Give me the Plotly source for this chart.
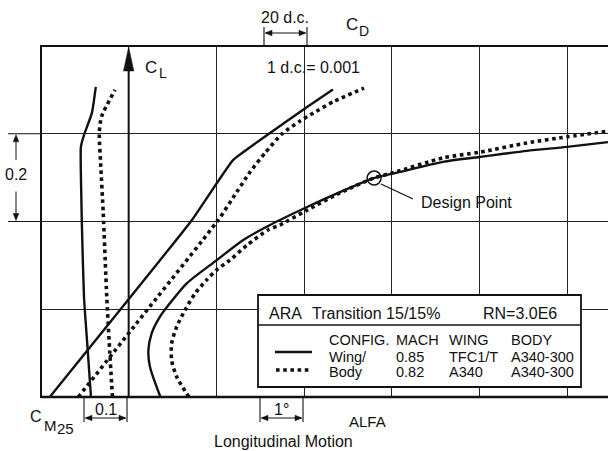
import plotly.graph_objects as go

# ---- data: wing/body polars (solid = TFC1/T wing, dotted = A340 wing) ----
# pitching moment vs lift
cl_cm_wing = [0.000, 0.115, 0.229, 0.403, 0.457, 0.570, 0.597, 0.647, 0.707]
cm_wing = [-0.086, -0.094, -0.102, -0.107, -0.108, -0.109, -0.102, -0.084, -0.075]
cl_cm_body = [0.000, 0.100, 0.229, 0.419, 0.533, 0.601, 0.639, 0.700]
cm_body = [-0.037, -0.043, -0.050, -0.058, -0.064, -0.067, -0.062, -0.031]

# lift vs angle of attack
alfa_wing = [-1.80, 1.44, 2.38, 3.16, 4.07, 4.66]
cl_alfa_wing = [0.000, 0.403, 0.540, 0.597, 0.661, 0.701]
alfa_body = [-1.15, 0.18, 2.04, 2.38, 2.77, 3.11, 3.49, 3.91, 4.21, 4.67, 5.37]
cl_alfa_body = [0.000, 0.168, 0.403, 0.454, 0.513, 0.556, 0.599, 0.629, 0.647, 0.673, 0.704]

# drag polar
cd_wing = [0.01745, 0.01697, 0.01690, 0.01705, 0.01743, 0.01789, 0.01865, 0.02002,
           0.02123, 0.02245, 0.02414, 0.02564, 0.02719, 0.02838, 0.03034, 0.03203,
           0.03417, 0.03600, 0.03787]
cl_cd_wing = [0.000, 0.069, 0.107, 0.145, 0.183, 0.214, 0.259, 0.312, 0.358, 0.392,
              0.433, 0.467, 0.499, 0.513, 0.536, 0.547, 0.561, 0.570, 0.581]
cd_body = [0.01875, 0.01819, 0.01796, 0.01796, 0.01819, 0.01857, 0.01903, 0.01956,
           0.02002, 0.02062, 0.02140, 0.02237, 0.02290, 0.02414, 0.02564, 0.02719,
           0.02806, 0.03034, 0.03203, 0.03417, 0.03600, 0.03787]
cl_cd_body = [0.000, 0.046, 0.084, 0.122, 0.160, 0.198, 0.236, 0.267, 0.290, 0.312,
              0.346, 0.381, 0.392, 0.426, 0.465, 0.499, 0.511, 0.545, 0.558, 0.579,
              0.593, 0.606]

design_cd = [0.0272]
design_cl = [0.499]

# legend table
legend_head = ["CONFIG.", "MACH", "WING", "BODY"]
legend_rows = [["Wing/", "0.85", "TFC1/T", "A340-300"],
               ["Body", "0.82", "A340", "A340-300"]]

# ---- page geometry ----
W, H = 608, 451
PL, PT, PR, PB = 41, 46, 608, 397          # plot area in page pixels
INK = "#111111"
FONT = "Liberation Sans, Arial, sans-serif"

CELL = (PR - PL - 41) / 6.0                # one grid cell in pixels
NCELL = (PR - PL) / CELL
CD0, DCD = 0.012, 0.004
A0, DA = -2.0, 2.0
CM0, DCM = -0.2, 0.2


def px_x(x):
    return (x - PL) / (PR - PL)


def px_y(y):
    return (PB - y) / (PB - PT)


shapes, annotations = [], []


def seg(x0, y0, x1, y1, w=1.2, dash=None):
    shapes.append(dict(type="line", xref="paper", yref="paper",
                       x0=px_x(x0), y0=px_y(y0), x1=px_x(x1), y1=px_y(y1),
                       line=dict(color=INK, width=w, dash=dash)))


def head(tx, ty, dx, dy, length=7.0, half=2.8):
    bx, by = tx - dx * length, ty - dy * length
    nx, ny = -dy, dx
    path = (f"M {px_x(tx)},{px_y(ty)} "
            f"L {px_x(bx + nx * half)},{px_y(by + ny * half)} "
            f"L {px_x(bx - nx * half)},{px_y(by - ny * half)} Z")
    shapes.append(dict(type="path", xref="paper", yref="paper", path=path,
                       fillcolor=INK, line=dict(color=INK, width=0.5)))


def label(x, y, text, size=16, anchor="left"):
    annotations.append(dict(xref="paper", yref="paper", x=px_x(x), y=px_y(y),
                            text=text, showarrow=False, xanchor=anchor,
                            yanchor="middle",
                            font=dict(size=size, color=INK, family=FONT)))


def dimension(x0, x1, y, ytop, ybot, text, ty):
    seg(x0, ytop, x0, ybot, 1.1)
    seg(x1, ytop, x1, ybot, 1.1)
    seg(x0 + 2, y, x1 - 2, y, 1.0)
    head(x0 + 1, y, -1, 0)
    head(x1 - 1, y, 1, 0)
    if text:
        label((x0 + x1) / 2, ty, text, 16, "center")


solid = dict(color=INK, width=2.4)
dotted = dict(color=INK, width=3.6, dash="dot")

fig = go.Figure()
fig.add_trace(go.Scatter(x=cm_wing, y=cl_cm_wing, xaxis="x3", mode="lines",
                         line=dict(**solid, shape="spline", smoothing=0.5),
                         name="CM wing"))
fig.add_trace(go.Scatter(x=cm_body, y=cl_cm_body, xaxis="x3", mode="lines",
                         line=dict(**dotted, shape="spline", smoothing=0.6),
                         name="CM body"))
fig.add_trace(go.Scatter(x=alfa_wing, y=cl_alfa_wing, xaxis="x2", mode="lines",
                         line=dict(**solid, shape="spline", smoothing=0.3),
                         name="CL wing"))
fig.add_trace(go.Scatter(x=alfa_body, y=cl_alfa_body, xaxis="x2", mode="lines",
                         line=dict(**dotted, shape="spline", smoothing=0.6),
                         name="CL body"))
fig.add_trace(go.Scatter(x=cd_wing, y=cl_cd_wing, mode="lines",
                         line=dict(**solid, shape="spline", smoothing=0.7),
                         name="CD wing"))
fig.add_trace(go.Scatter(x=cd_body, y=cl_cd_body, mode="lines",
                         line=dict(**dotted, shape="spline", smoothing=0.7),
                         name="CD body"))
fig.add_trace(go.Scatter(x=design_cd, y=design_cl, mode="markers",
                         marker=dict(symbol="circle-open", size=14, color=INK,
                                     line=dict(color=INK, width=1.5)),
                         name="Design Point"))

# plot frame (no right edge: grid runs on past the page)
seg(PL, PT, PR, PT, 2.0)
seg(PL, PT - 1, PL, PB + 1, 2.0)
seg(PL, PB, PR, PB, 2.6)

# C_L axis standing on C_M = 0
x_cl = PL + (0 - CM0) / DCM * CELL
seg(x_cl, PB, x_cl, PT + 18, 2.0)
head(x_cl, PT + 1, 0, -1, length=24, half=5.2)
label(143, 67, "C", 17)
label(157, 73, "L", 14)

# C_L scale: 0.2 between the two grid lines
y_a, y_b = PB - 3 * (PB - PT) / 4, PB - 2 * (PB - PT) / 4
seg(8, y_a, PL, y_a, 1.1)
seg(8, y_b, PL, y_b, 1.1)
seg(16, y_a + 4, 16, y_a + 26, 1.0)
head(16, y_a + 1, 0, -1)
seg(16, y_b - 4, 16, y_b - 30, 1.0)
head(16, y_b - 1, 0, 1)
label(16, 174, "0.2", 16, "center")

# C_D scale
dimension(264, 307, 33, 27, 45, "", 18)
label(285, 18, "20 d.c.", 16, "center")
label(344, 25, "C", 17)
label(357, 31, "D", 14)
label(265, 68, "1 d.c.= 0.001", 16)

# C_M and ALFA scales under the frame
dimension(84, 127, 418, PB, 422, "0.1", 409)
label(28, 416, "C", 16)
label(42, 425, "M", 15)
label(55, 428, "25", 15)
dimension(260, 303, 418, PB, 422, "1°", 409)
label(347, 421, "ALFA", 15)
label(212, 441, "Longitudinal Motion", 16)

# design point call-out
seg(381, 184, 413, 199, 1.2)
label(419, 202, "Design Point", 16)

# legend table
bx0, by0, bx1, by1 = 258, 295, 581, 387
shapes.append(dict(type="rect", xref="paper", yref="paper", layer="above",
                   x0=px_x(bx0), y0=px_y(by0), x1=px_x(bx1), y1=px_y(by1),
                   fillcolor="white", line=dict(color=INK, width=1.8)))
seg(bx0, 325, bx1, 325, 1.5)
label(267, 313, "ARA", 16)
label(310, 313, "Transition 15/15%", 16)
label(481, 313, "RN=3.0E6", 16)
cols = [327, 394, 447, 509]
for cx, t in zip(cols, legend_head):
    label(cx, 340, t, 14.5)
for ry, row in zip([357, 372], legend_rows):
    for cx, t in zip(cols, row):
        label(cx, ry, t, 14.5)
seg(275, 352, 312, 352, 2.4)
seg(276, 370, 312, 370, 3.6, "dot")

fig.update_layout(
    width=W, height=H,
    margin=dict(l=PL, r=W - PR, t=PT, b=H - PB, pad=0),
    paper_bgcolor="white", plot_bgcolor="white",
    showlegend=False,
    xaxis=dict(range=[CD0, CD0 + NCELL * DCD], tick0=CD0, dtick=DCD,
               showgrid=True, gridcolor="#222", gridwidth=1,
               showticklabels=False, ticks="", zeroline=False, showline=False),
    xaxis2=dict(range=[A0, A0 + NCELL * DA], overlaying="x", anchor="y",
                visible=False),
    xaxis3=dict(range=[CM0, CM0 + NCELL * DCM], overlaying="x", anchor="y",
                visible=False),
    yaxis=dict(range=[0, 0.8], tick0=0, dtick=0.2, showgrid=True,
               gridcolor="#222", gridwidth=1, showticklabels=False, ticks="",
               zeroline=False, showline=False),
    shapes=shapes,
    annotations=annotations,
)

fig.write_html("out.html")
